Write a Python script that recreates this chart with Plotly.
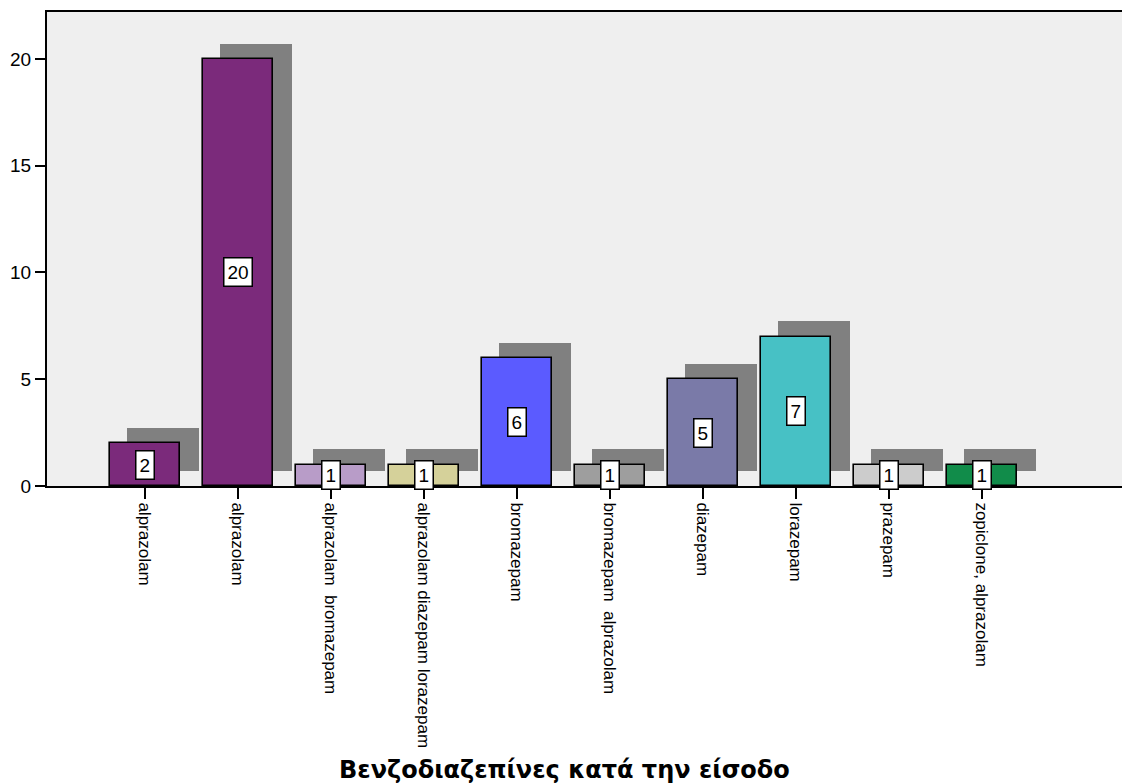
import plotly.graph_objects as go

# Counts of benzodiazepine combinations at admission
categories = [
    "alprazolam",
    "alprazolam",
    "alprazolam\u00a0\u00a0bromazepam",
    "alprazolam diazepam lorazepam",
    "bromazepam",
    "bromazepam\u00a0\u00a0alprazolam",
    "diazepam",
    "lorazepam",
    "prazepam",
    "zopiclone, alprazolam",
]
counts = [2, 20, 1, 1, 6, 1, 5, 7, 1, 1]
bar_colors = ["#7B2A7B", "#7B2A7B", "#B89CC8", "#D5D19A", "#5B5BFF",
              "#9E9E9E", "#7A7AA8", "#47C1C5", "#CCCCCC", "#118C4A"]

positions = list(range(len(categories)))
shadow_dx = 0.195   # horizontal drop-shadow offset (category units)
shadow_dy = 0.72    # vertical drop-shadow offset (count units)
bar_w = 0.755

fig = go.Figure()

# drop shadows behind the bars
fig.add_trace(go.Bar(
    x=[p + shadow_dx for p in positions],
    y=counts,
    base=[shadow_dy] * len(counts),
    width=bar_w + 0.02,
    marker=dict(color="#808080", line=dict(width=0)),
    hoverinfo="skip",
    showlegend=False,
))

# main bars
fig.add_trace(go.Bar(
    x=positions,
    y=counts,
    width=bar_w,
    marker=dict(color=bar_colors, line=dict(color="#000000", width=1.6)),
    showlegend=False,
))

# value labels in boxed callouts at mid-height
for p, v in zip(positions, counts):
    fig.add_annotation(
        x=p, y=v / 2, text=str(v), showarrow=False,
        font=dict(family="Liberation Sans", size=19, color="#000000"),
        bgcolor="#FFFFFF", bordercolor="#000000", borderwidth=1.5, borderpad=3,
    )

fig.update_layout(
    width=1122, height=784,
    margin=dict(l=47, r=0, t=12, b=298),
    paper_bgcolor="#FFFFFF",
    plot_bgcolor="#EFEFEF",
    barmode="overlay",
    bargap=0,
    font=dict(family="Liberation Sans", size=16, color="#000000"),
    annotations=list(fig.layout.annotations) + [dict(
        xref="paper", yref="paper", x=(564 - 47) / (1122 - 47), y=-0.6,
        text="<b>Βενζοδιαζεπίνες κατά την είσοδο</b>", showarrow=False,
        font=dict(family="DejaVu Sans", size=24, color="#000000"),
        xanchor="center", yanchor="middle",
    )],
)

fig.update_xaxes(
    range=[(47 - 145) / 93, (1122 - 145) / 93],
    tickmode="array", tickvals=positions, ticktext=categories,
    tickangle=90,
    ticks="outside", ticklen=11, tickwidth=2, tickcolor="#000000",
    tickfont=dict(family="Liberation Sans", size=17, color="#000000"),
    showline=True, linecolor="#000000", linewidth=2, mirror=True,
    showgrid=False, zeroline=False,
)
fig.update_yaxes(
    range=[0, 22.2],
    tickmode="array", tickvals=[0, 5, 10, 15, 20],
    ticks="outside", ticklen=10, tickwidth=1.5, tickcolor="#000000",
    tickfont=dict(family="Liberation Sans", size=19, color="#000000"),
    showline=True, linecolor="#000000", linewidth=2,
    showgrid=False, zeroline=False,
)

fig.write_html("out.html")
